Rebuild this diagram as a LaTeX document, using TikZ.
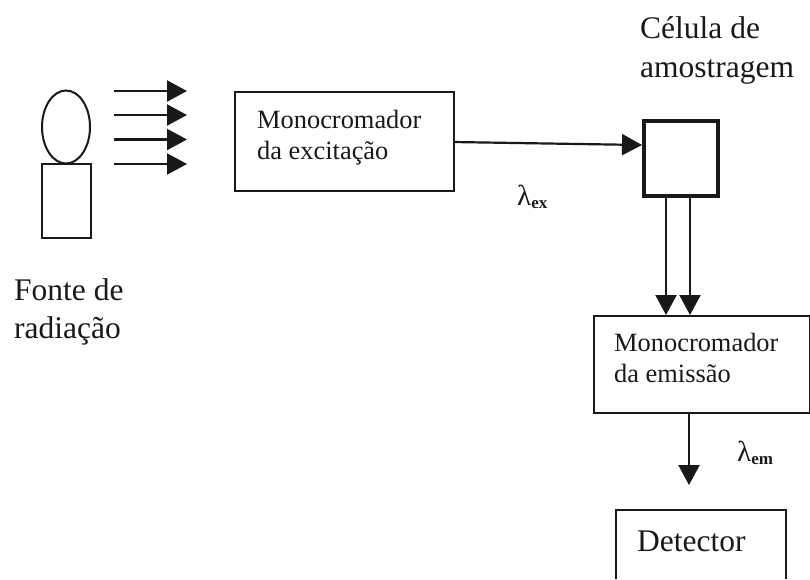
\documentclass[tikz,border=0pt]{standalone}
\usepackage{fontspec}
\setmainfont{Liberation Serif}
\usetikzlibrary{arrows.meta,shapes.geometric}
\definecolor{ink}{RGB}{25,25,25}
\tikzset{
  x=1pt,y=-1pt,
  every path/.style={color=ink},
  boxed/.style={draw=ink,line width=2.2pt,fill=none,inner sep=0pt,anchor=north west},
  cellbox/.style={boxed,line width=3.8pt},
  flow/.style={draw=ink,line width=2.2pt,-{Triangle[length=20pt,width=21pt,fill=ink]},shorten >=0pt},
  bigtext/.style={text=ink,inner sep=0pt,anchor=base west,font=\fontsize{31.5}{34}\selectfont},
  midtext/.style={text=ink,inner sep=0pt,anchor=base west,font=\fontsize{26.4}{28}\selectfont},
  lam/.style={text=ink,inner sep=0pt,anchor=base west,font=\fontsize{29}{30}\selectfont},
}
\newcommand{\lamsub}[1]{λ\raisebox{-3.5pt}{\fontsize{17}{18}\selectfont\bfseries #1}}
\begin{document}
\begin{tikzpicture}
\useasboundingbox (0,0) rectangle (810,579);
% lamp
\node[ellipse,draw=ink,line width=2pt,minimum width=48pt,minimum height=73pt,inner sep=0pt] (bulb) at (66,127) {};
\node[boxed,line width=2pt,minimum width=49pt,minimum height=74pt] (base) at (41,163) {};
% boxes
\node[boxed,minimum width=219pt,minimum height=99pt] (mex) at (234,91) {};
\node[cellbox,minimum width=74pt,minimum height=75pt] (cell) at (642,119) {};
\node[boxed,minimum width=216pt,minimum height=97pt] (mem) at (593,315) {};
% detector, cut off by the page edge
\coordinate (detbl) at (616,579);
\coordinate (dettl) at (616,510);
\coordinate (dettr) at (786,510);
\coordinate (detbr) at (786,579);
\draw[line width=2.2pt] (detbl) -- (dettl) -- (dettr) -- (detbr);
% source rays
\coordinate (r1a) at (114,91);  \coordinate (r1b) at (187,91);
\coordinate (r2a) at (114,115); \coordinate (r2b) at (187,115);
\coordinate (r3a) at (114,139.5); \coordinate (r3b) at (187,139.5);
\coordinate (r4a) at (114,164); \coordinate (r4b) at (187,164);
\draw[flow] (r1a) -- (r1b);
\draw[flow] (r2a) -- (r2b);
\draw[flow] (r3a) -- (r3b);
\draw[flow] (r4a) -- (r4b);
% connectors
\coordinate (inx) at (642,145);
\coordinate (mexo) at (453,142);
\draw[flow] (mexo) -- (inx);
\coordinate (c1) at (666,194); \coordinate (m1) at (666,315);
\coordinate (c2) at (690,194); \coordinate (m2) at (690,315);
\draw[flow] (c1) -- (m1);
\draw[flow] (c2) -- (m2);
\coordinate (mo) at (689,412); \coordinate (di) at (689,485);
\draw[flow] (mo) -- (di);
% texts
\node[bigtext] (t1) at (14,300) {Fonte de};
\node[bigtext] (t2) at (14,338) {radiação};
\node[midtext] (t3) at (257,128) {Monocromador};
\node[midtext] (t4) at (257,159) {da excitação};
\node[bigtext] (t5) at (640,38) {Célula de};
\node[bigtext] (t6) at (640,77) {amostragem};
\node[midtext] (t7) at (614,351) {Monocromador};
\node[midtext] (t8) at (614,382) {da emissão};
\node[bigtext] (t9) at (637,551) {Detector};
\node[lam] (lx) at (517,205) {\lamsub{ex}};
\node[lam] (lm) at (737,461) {\lamsub{em}};
\end{tikzpicture}
\end{document}
